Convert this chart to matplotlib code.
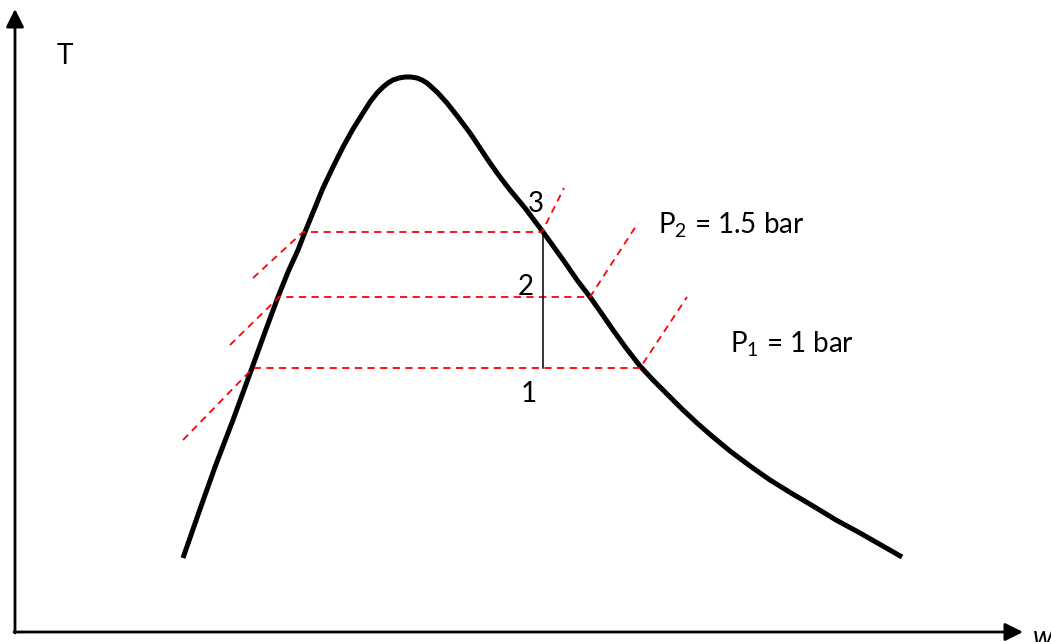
import numpy as np
import matplotlib
matplotlib.use('Agg')
import matplotlib.pyplot as plt

plt.rcParams['font.family'] = ['Lato', 'DejaVu Sans']
plt.rcParams['mathtext.fontset'] = 'custom'
plt.rcParams['mathtext.rm'] = 'Lato'

# saturation dome (pixel coordinates, y down)
dome_x = [183, 199, 215, 233, 252, 265, 278, 288, 298, 305, 314, 323, 333,
          343, 353, 363, 370, 377, 383, 388, 393, 399, 405, 411, 417, 422,
          427, 437, 447, 458, 470, 480, 490, 500, 510, 525, 543, 556, 566,
          577, 590, 602, 613, 626, 640, 653, 667, 682, 697, 713, 730, 750,
          770, 791, 813, 836, 860, 881, 902]
dome_y = [558, 512, 467, 420, 368, 332, 297, 272, 250, 232, 210, 188, 167,
          147, 129, 113, 102, 93, 87, 83, 80, 78, 77, 77, 78, 80,
          83, 92, 103, 117, 133, 148, 163, 177, 190, 208, 232, 250, 264,
          280, 297, 314, 330, 348, 366, 380, 394, 409, 423, 437, 451, 466,
          480, 493, 506, 520, 533, 545, 557]

# isobars: level, liquid point, vapour point
iso_y = [232, 297, 368]
iso_left = [303, 279, 253]
iso_right = [542, 590, 640]
# ends of the slanted dashed pieces
left_ext = [(253, 278), (230, 345), (183, 440)]
right_ext = [(564, 188), (638, 223), (687, 297)]

state_labels = ['3', '2', '1']
state_pos = [(536, 212), (526, 295), (529, 402)]

fig = plt.figure(figsize=(10.51, 6.42), dpi=100)
ax = fig.add_axes([0, 0, 1, 1])
ax.set_xlim(0, 1051)
ax.set_ylim(642, 0)
ax.axis('off')

# axes arrows
ax.annotate('', xy=(1023, 632), xytext=(14, 632),
            arrowprops=dict(arrowstyle='-|>', lw=2, color='k',
                            mutation_scale=27, shrinkA=0, shrinkB=0))
ax.annotate('', xy=(15, 9), xytext=(15, 633),
            arrowprops=dict(arrowstyle='-|>', lw=2, color='k',
                            mutation_scale=27, shrinkA=0, shrinkB=0))

ax.plot(dome_x, dome_y, color='k', lw=3.6, solid_capstyle='butt',
        solid_joinstyle='round')

red = dict(color='#ff0000', lw=1.3, dashes=(4, 3))
for y, xl, xr, le, re in zip(iso_y, iso_left, iso_right, left_ext, right_ext):
    ax.plot([le[0], xl, xr, re[0]], [le[1], y, y, re[1]], **red)

# compression 1 -> 3
ax.plot([543, 543], [iso_y[0], iso_y[2]], color='k', lw=1.1)

for s, (x, y) in zip(state_labels, state_pos):
    ax.text(x, y, s, fontsize=20, ha='center', va='baseline')

ax.text(658, 233, r'P$_\mathregular{2}$ = 1.5 bar', fontsize=20, va='baseline')
ax.text(730, 352, r'P$_\mathregular{1}$ = 1 bar', fontsize=20, va='baseline')
ax.text(65, 64, 'T', fontsize=20, ha='center', va='baseline')
ax.text(1033, 646, 'w', fontsize=20, style='italic', va='baseline')

fig.savefig('out.png', dpi=100)
